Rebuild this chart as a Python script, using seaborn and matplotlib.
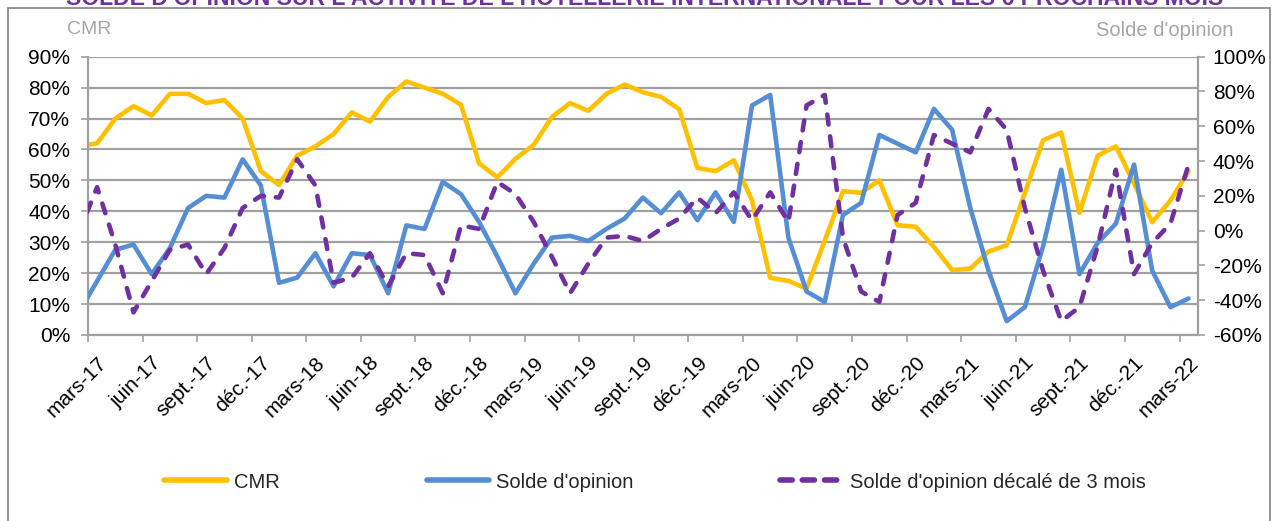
import numpy as np
import pandas as pd
import matplotlib
matplotlib.use('Agg')
import matplotlib.pyplot as plt
import matplotlib.transforms as mtransforms
import seaborn as sns
from matplotlib.lines import Line2D
from matplotlib.patches import Rectangle

# mois depuis mars-17 (le point de fév.-17 est coupé par l'axe)
mois = np.arange(-1, 61)

cmr = [61, 62, 70, 74, 71, 78, 78, 75, 76, 70, 53, 48.5, 58, 61, 65, 72, 69, 77, 82, 80,
       78, 74.5, 55.5, 51, 57, 61.5, 70.5, 75, 72.5, 78, 81, 78.5, 77, 73, 54, 53, 56.5, 43.5,
       18.5, 17.5, 15, 30.5, 46.5, 46, 50, 35.5, 35, 28.5, 21, 21.5, 27, 29, 46, 63, 65.5,
       39.5, 58, 61, 49, 36.5, 43.5, 53]

solde = [-47, -29, -11, -8, -25, -10, 13, 20, 19, 41, 26, -30, -27, -13, -32, -13, -14, -36,
         3, 1, 28, 21, 5, -15, -36, -19, -4, -3, -6, 1, 7, 19, 10, 22, 6, 22, 5, 72, 78, -4,
         -35, -41, 9, 16, 55, 50, 45, 70, 58, 13, -23, -52, -44, -9, 35, -25, -7, 4, 38, -23,
         -44, -39]

solde_decale = [-1, 25, -8, -47, -29, -11, -8, -25, -10, 13, 20, 19, 41, 26, -30, -27, -13,
                -32, -13, -14, -36, 3, 1, 28, 21, 5, -15, -36, -19, -4, -3, -6, 1, 7, 19, 10,
                22, 6, 22, 5, 72, 78, -4, -35, -41, 9, 16, 55, 50, 45, 70, 58, 13, -23, -52,
                -44, -9, 35, -25, -7, 4, 38]

tick_labels = ['mars-17', 'juin-17', 'sept.-17', 'déc.-17', 'mars-18', 'juin-18', 'sept.-18',
               'déc.-18', 'mars-19', 'juin-19', 'sept.-19', 'déc.-19', 'mars-20', 'juin-20',
               'sept.-20', 'déc.-20', 'mars-21', 'juin-21', 'sept.-21', 'déc.-21', 'mars-22']

titre = "SOLDE D'OPINION SUR L'ACTIVITE DE L'HOTELLERIE INTERNATIONALE POUR LES 6 PROCHAINS MOIS"

JAUNE = '#FFC000'
BLEU = '#558ED5'
VIOLET = '#7030A0'
GRIS = '#A0A0A0'

sns.set_theme(style='white')
plt.rcParams['font.family'] = ['Liberation Sans', 'DejaVu Sans']

df = pd.DataFrame({'x': mois + 0.5, 'cmr': cmr, 'solde': solde, 'decale': solde_decale})

W, H = 1275, 521
fig = plt.figure(figsize=(W / 100, H / 100), dpi=100)
ax = fig.add_axes([88 / W, 1 - 335 / H, (1197.7 - 88) / W, (335 - 56.7) / H])
ax2 = ax.twinx()

lw = 3.3
sns.lineplot(data=df, x='x', y='cmr', ax=ax, color=JAUNE, lw=lw)
sns.lineplot(data=df, x='x', y='solde', ax=ax2, color=BLEU, lw=lw)
sns.lineplot(data=df, x='x', y='decale', ax=ax2, color=VIOLET, lw=lw)
l = ax2.lines[-1]
l.set_dashes((2.2, 2.6))
l.set_dash_capstyle('round')
for ln in ax.lines + ax2.lines:
    ln.set_solid_joinstyle('round')

ax.set_xlim(0, 61)
ax.set_ylim(0, 90)
ax2.set_ylim(-60, 100)
ax.set_yticks(range(0, 91, 10))
ax.set_yticklabels([f'{v}%' for v in range(0, 91, 10)])
ax2.set_yticks(range(-60, 101, 20))
ax2.set_yticklabels([f'{v}%' for v in range(-60, 101, 20)])
ax.set_xticks(range(0, 61, 3))
ax.set_xticklabels(tick_labels, rotation=45, ha='right', rotation_mode='anchor')
ax.set_xlabel('')
ax.set_ylabel('')
ax2.set_ylabel('')

ax.grid(axis='y', color=GRIS, lw=1.6)
ax.grid(axis='x', visible=False)
ax2.grid(False)
for a in (ax, ax2):
    for s in a.spines.values():
        s.set_visible(False)
ax.spines['left'].set_visible(True)
ax.spines['bottom'].set_visible(True)
ax2.spines['right'].set_visible(True)
for s in (ax.spines['left'], ax.spines['bottom'], ax2.spines['right']):
    s.set_color(GRIS)
    s.set_linewidth(1.6)

ax.tick_params(axis='both', which='major', direction='out', length=4.8, width=1.2,
               color=GRIS, labelsize=15, labelcolor='black', left=True, bottom=True)
ax.tick_params(axis='y', pad=8)
ax.tick_params(axis='x', pad=2)
ax2.tick_params(axis='y', direction='out', length=4.8, width=1.2, color=GRIS,
                labelsize=15, labelcolor='black', right=True, pad=6)

# décaler les étiquettes de dates comme dans Excel (après tick_params)
decal = mtransforms.ScaledTranslation(9 / 100, -9 / 100, fig.dpi_scale_trans)
for lab in ax.get_xticklabels():
    lab.set_transform(lab.get_transform() + decal)

# titres des axes
fig.text(67 / W, 1 - 30 / H, 'CMR', color='#A6A6A6', fontsize=14, ha='left', va='center')
fig.text(1233 / W, 1 - 30 / H, "Solde d'opinion", color='#A6A6A6', fontsize=14.5,
         ha='right', va='center')

# titre coupé en haut
t = fig.text(645 / W, 1 - 5 / H, titre, color=VIOLET, fontsize=16, fontweight='bold',
             ha='center', va='baseline')
fig.canvas.draw()
bb = t.get_window_extent()
t.set_fontsize(16 * 1160 / bb.width)

# cadre du graphique
fig.add_artist(Rectangle((8 / W, -0.2), (1270 - 8) / W, 1.2 - 8 / H, transform=fig.transFigure,
                         fill=False, edgecolor='#8C8C8C', lw=1.3, clip_on=False))

handles = [Line2D([], [], color=JAUNE, lw=4),
           Line2D([], [], color=BLEU, lw=4),
           Line2D([], [], color=VIOLET, lw=4, dashes=(2.2, 1.8), dash_capstyle='round')]
labels = ['CMR', "Solde d'opinion", "Solde d'opinion décalé de 3 mois"]
fig.legend(handles, labels, loc='center', bbox_to_anchor=(655 / W, 1 - 482 / H), ncol=3,
           frameon=False, fontsize=14.5, handlelength=3.1, handletextpad=0.35,
           columnspacing=7.3)

fig.savefig('out.png', dpi=100)
